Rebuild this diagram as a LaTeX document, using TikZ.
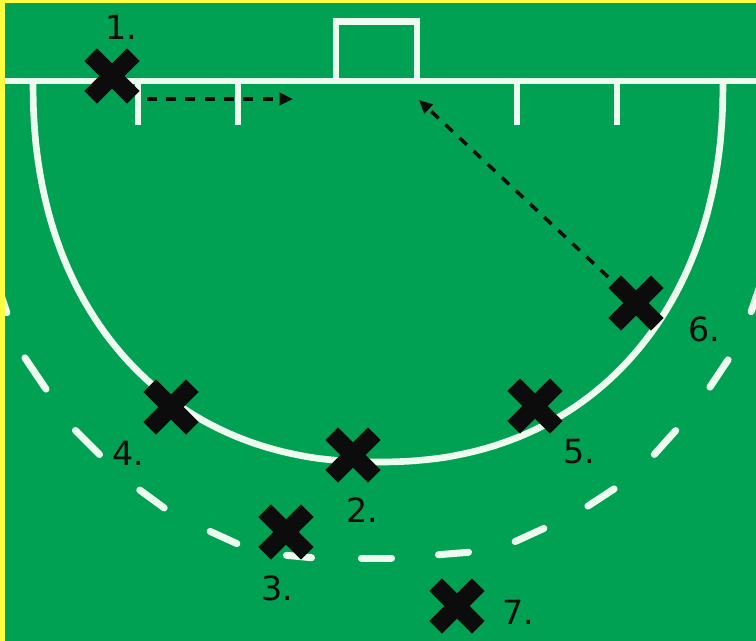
\documentclass[tikz,border=0pt]{standalone}
\usepackage{fontspec}
\setmainfont{DejaVu Sans}
\usetikzlibrary{arrows.meta}
\definecolor{pitch}{RGB}{0,161,82}
\definecolor{rim}{RGB}{255,255,64}
\definecolor{chalk}{RGB}{238,252,240}
\definecolor{ink}{RGB}{12,12,12}
\tikzset{
  chalkline/.style={draw=chalk, line width=5pt},
  thinchalk/.style={draw=chalk, line width=4.5pt},
  player/.style={minimum size=42pt, inner sep=0pt, outer sep=0pt,
    path picture={
      \draw[ink, line width=13.5pt]
        ([shift={(-16pt,-16pt)}]path picture bounding box.center) --
        ([shift={(16pt,16pt)}]path picture bounding box.center);
      \draw[ink, line width=13.5pt]
        ([shift={(-16pt,16pt)}]path picture bounding box.center) --
        ([shift={(16pt,-16pt)}]path picture bounding box.center);
    }},
  lbl/.style={font=\fontsize{25}{30}\selectfont, text=ink, inner sep=0pt},
  runarrow/.style={draw=ink, line width=2.6pt, dash pattern=on 7.5pt off 7pt,
    -{Triangle[length=10pt,width=9pt]}},
  circledash/.style={draw=chalk, line width=5.25pt, line cap=round,
    shorten <=2.6pt, shorten >=2.6pt}
}
\begin{document}
\begin{tikzpicture}[x=0.75pt, y=-0.75pt]
  \useasboundingbox (0,0) rectangle (756,641);
  \fill[rim] (0,0) rectangle (756,641);
  \fill[pitch] (5,3) rectangle (756,641);
  \begin{scope}
    \clip (5,3) rectangle (756,641);
    % outer dashed circle
    \foreach \ax/\ay/\bx/\by in {-4/280/8/316, 23/355/48/392, 73/428/102/457,
        137/488/167/510, 207/530/240/545, 283/555/315/558, 358/558/395/558,
        435/555/472/552, 512/543/547/527, 585/508/617/487, 652/457/678/428,
        708/390/730/357, 750/315/762/280}
      \draw[circledash] (\ax,\ay) -- (\bx,\by);
    % shooting circle
    \draw[chalkline] plot[domain=0:180, samples=120, variable=\t]
      ({378+345*sign(cos(\t))*pow(abs(cos(\t))+0.00001,0.909)},
       {81+381*pow(abs(sin(\t))+0.00001,0.909)});
    % goal line and goal
    \draw[chalkline] (5,81) -- (756,81);
    \draw[chalkline] (336,81) -- (336,21.5) -- (417,21.5) -- (417,81);
    % ticks
    \foreach \xx in {138,238,517,617}
      \draw[thinchalk] (\xx,81) -- (\xx,125);
  \end{scope}
  % players
  \node[player] (c1) at (112,76) {};
  \node[player] (c2) at (353,455) {};
  \node[player] (c3) at (286,532) {};
  \node[player] (c4) at (171,407) {};
  \node[player] (c5) at (535,406) {};
  \node[player] (c6) at (636,303) {};
  \node[player] (c7) at (457,606) {};
  % labels
  \node[lbl] (l1) at (121,27) {1.};
  \node[lbl] (l2) at (362,510) {2.};
  \node[lbl] (l3) at (277,588) {3.};
  \node[lbl] (l4) at (128,453) {4.};
  \node[lbl] (l5) at (579,452) {5.};
  \node[lbl] (l6) at (704,329) {6.};
  \node[lbl] (l7) at (518,612) {7.};
  % runs
  \coordinate (a1end) at (293,99);
  \coordinate (a6end) at (419,100);
  \draw[runarrow, shorten <=5pt] (c1.east |- a1end) -- (a1end);
  \draw[runarrow] (c6) -- (a6end);
\end{tikzpicture}
\end{document}
